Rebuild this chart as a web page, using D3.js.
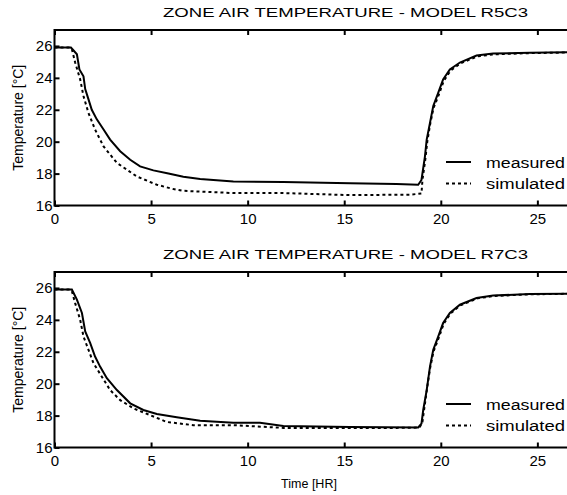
<!DOCTYPE html>
<html>
<head>
<meta charset="utf-8">
<script src="https://cdn.jsdelivr.net/npm/d3@7"></script>
<style>
  body { margin: 0; background: #fff; }
  svg { display: block; font-family: "Liberation Sans", Arial, sans-serif; }
</style>
</head>
<body>
<svg id="chart" width="567" height="495"></svg>
<script>
// top panel - model R5C3
var r5Time_meas = [0, 0.85, 1.0, 1.16, 1.29, 1.5, 1.59, 1.76, 1.93, 2.19, 2.54, 2.88, 3.4, 3.92, 4.43, 5.12, 5.9, 6.67, 7.54, 9.26, 11.85, 15.3, 17.7, 18.83, 19.0, 19.18, 19.27, 19.44, 19.61, 19.87, 20.12, 20.47, 20.99, 21.85, 22.71, 24.6, 27];
var r5Temp_meas = [25.9, 25.9, 25.7, 25.48, 24.53, 24.1, 23.3, 22.65, 22.0, 21.4, 20.76, 20.13, 19.4, 18.87, 18.45, 18.2, 18.0, 17.8, 17.66, 17.51, 17.47, 17.4, 17.35, 17.3, 17.6, 19.08, 20.13, 21.18, 22.23, 23.07, 23.9, 24.53, 24.96, 25.4, 25.52, 25.58, 25.62];
var r5Time_sim = [0, 0.8, 0.9, 1.07, 1.33, 1.5, 1.76, 2.1, 2.54, 3.23, 4.26, 5.3, 6.16, 6.67, 9.26, 11.85, 15.3, 18.4, 19.0, 19.05, 19.2, 19.3, 19.45, 19.62, 19.9, 20.15, 20.5, 21.0, 21.9, 22.8, 24.6, 27];
var r5Temp_sim = [25.9, 25.9, 25.8, 24.96, 23.9, 22.86, 21.8, 20.76, 19.7, 18.67, 17.82, 17.3, 17.03, 16.92, 16.78, 16.78, 16.65, 16.68, 16.75, 17.6, 18.9, 20.0, 21.1, 22.1, 22.95, 23.8, 24.45, 24.9, 25.35, 25.48, 25.55, 25.6];

// bottom panel - model R7C3
var r7Time_meas = [0, 0.9, 1.16, 1.42, 1.59, 1.85, 2.1, 2.36, 2.71, 3.23, 3.92, 4.6, 5.3, 6.33, 7.54, 9.26, 10.64, 11.85, 15.3, 18.83, 19.0, 19.09, 19.27, 19.44, 19.61, 19.87, 20.12, 20.47, 20.99, 21.85, 22.71, 24.6, 27];
var r7Temp_meas = [25.9, 25.9, 25.27, 24.43, 23.27, 22.54, 21.7, 21.07, 20.34, 19.6, 18.77, 18.35, 18.1, 17.9, 17.67, 17.55, 17.55, 17.35, 17.28, 17.26, 17.5, 18.35, 19.6, 21.07, 22.12, 22.96, 23.8, 24.43, 24.95, 25.37, 25.52, 25.62, 25.64];
var r7Time_sim = [0, 0.8, 0.9, 1.07, 1.33, 1.5, 1.76, 2.02, 2.45, 2.88, 3.4, 4.09, 4.95, 5.81, 7.19, 9.26, 11.85, 17.7, 18.9, 19.05, 19.15, 19.3, 19.45, 19.62, 19.9, 20.15, 20.5, 21.0, 21.9, 22.8, 24.6, 27];
var r7Temp_sim = [25.9, 25.9, 25.8, 25.05, 24.0, 22.96, 22.12, 21.28, 20.44, 19.6, 18.97, 18.45, 18.03, 17.6, 17.4, 17.4, 17.23, 17.23, 17.25, 17.6, 18.5, 19.8, 21.0, 22.0, 22.9, 23.75, 24.4, 24.9, 25.35, 25.5, 25.6, 25.64];

var xTicks = [0, 5, 10, 15, 20, 25];
var yTicks = [16, 18, 20, 22, 24, 26];
var legendLabels = ["measured", "simulated"];

var svg = d3.select("#chart");

function zip(ts, vs) {
    return ts.map((t, i) => ({ t: t, v: vs[i] }));
}

function drawPanel(top, title, meas, sim, withXLabel) {
    var left = 54.5, bottom = top + 175.5;
    var x = d3.scaleLinear().domain([0, 27]).range([left, 576]);
    var y = d3.scaleLinear().domain([16, 27]).range([bottom, top]);
    var g = svg.append("g");

    // title, stretched wide like the original
    g.append("text")
        .attr("x", 163).attr("y", top - 13)
        .attr("font-size", 13)
        .attr("textLength", 365)
        .attr("lengthAdjust", "spacingAndGlyphs")
        .text(title);

    // lines
    var line = d3.line().x(d => x(d.t)).y(d => y(d.v));
    g.append("path").datum(sim)
        .attr("d", line)
        .attr("fill", "none").attr("stroke", "#000")
        .attr("stroke-width", 2).attr("stroke-dasharray", "3,3");
    g.append("path").datum(meas)
        .attr("d", line)
        .attr("fill", "none").attr("stroke", "#000")
        .attr("stroke-width", 2);

    // axes with inward ticks (matlab style)
    var xb = g.append("g").attr("transform", `translate(0,${bottom})`)
        .call(d3.axisBottom(x).tickValues(xTicks).tickSize(-5).tickPadding(6));
    xb.selectAll("text").attr("font-size", 15).attr("dy", "0.85em").attr("fill", "#000");
    var xt = g.append("g").attr("transform", `translate(0,${top})`)
        .call(d3.axisTop(x).tickValues(xTicks).tickSize(-5).tickFormat(""));
    var yl = g.append("g").attr("transform", `translate(${left},0)`)
        .call(d3.axisLeft(y).tickValues(yTicks).tickSize(-5).tickPadding(2));
    yl.selectAll("text").attr("font-size", 15).attr("fill", "#000");
    g.selectAll(".domain").attr("stroke", "#000").attr("stroke-width", 2);
    g.selectAll(".tick line").attr("stroke", "#000").attr("stroke-width", 2);
    g.selectAll(".domain").attr("d", null);
    // plot box
    g.append("rect")
        .attr("x", left).attr("y", top)
        .attr("width", x(27) - left).attr("height", bottom - top)
        .attr("fill", "none").attr("stroke", "#000").attr("stroke-width", 2);

    g.append("text")
        .attr("transform", `translate(23,${(top + bottom) / 2}) rotate(-90)`)
        .attr("text-anchor", "middle")
        .attr("font-size", 14)
        .text("Temperature [°C]");

    // legend
    var legY = [bottom - 43.5, bottom - 22];
    legendLabels.forEach((lab, i) => {
        g.append("line")
            .attr("x1", 446).attr("x2", 471)
            .attr("y1", legY[i]).attr("y2", legY[i])
            .attr("stroke", "#000").attr("stroke-width", 2)
            .attr("stroke-dasharray", i == 1 ? "3,3" : null);
        g.append("text")
            .attr("x", 486).attr("y", legY[i] + 5.5)
            .attr("font-size", 14)
            .attr("textLength", i == 0 ? 79 : 79)
            .attr("lengthAdjust", "spacingAndGlyphs")
            .text(lab);
    });

    if (withXLabel) {
        g.append("text")
            .attr("x", 309).attr("y", bottom + 40)
            .attr("text-anchor", "middle")
            .attr("font-size", 12.5)
            .text("Time [HR]");
    }
}

drawPanel(30, "ZONE AIR TEMPERATURE - MODEL R5C3", zip(r5Time_meas, r5Temp_meas), zip(r5Time_sim, r5Temp_sim), false);
drawPanel(272, "ZONE AIR TEMPERATURE - MODEL R7C3", zip(r7Time_meas, r7Temp_meas), zip(r7Time_sim, r7Temp_sim), true);
</script>
</body>
</html>
